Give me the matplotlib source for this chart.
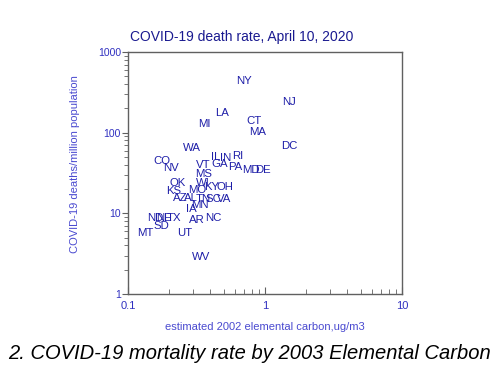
import matplotlib
matplotlib.use("Agg")
import matplotlib.pyplot as plt
from matplotlib.ticker import LogLocator, FixedLocator, NullFormatter

# state labels, estimated elemental carbon (ug/m3), deaths per million
states = ["NY", "NJ", "LA", "MI", "CT", "MA", "DC", "WA", "IL", "IN", "RI",
          "CO", "NV", "VT", "GA", "PA", "MD", "DE", "MS", "OK", "WI", "KY",
          "OH", "KS", "MO", "AZ", "AL", "TN", "SC", "VA", "IA", "MN", "AR",
          "NC", "UT", "MT", "SD", "ND", "NE", "TX", "WV"]
carbon = [0.70, 1.50, 0.485, 0.359, 0.83, 0.89, 1.50, 0.293, 0.438, 0.519, 0.635,
          0.177, 0.206, 0.352, 0.470, 0.604, 0.79, 0.966, 0.359, 0.232, 0.352, 0.410,
          0.511, 0.217, 0.319, 0.240, 0.288, 0.352, 0.417, 0.502, 0.288, 0.336, 0.319,
          0.417, 0.261, 0.133, 0.174, 0.157, 0.183, 0.217, 0.341]
deaths = [437, 240, 175, 128, 140, 102, 68, 65, 50, 48.5, 51,
          44.7, 36.6, 39.8, 41, 37.6, 34.5, 34.5, 30.8, 23.8, 23.8, 21.2,
          21.2, 19.0, 19.5, 15.5, 15.5, 15.1, 15.1, 15.1, 11.4, 12.7, 8.28,
          8.77, 5.71, 5.71, 6.98, 8.77, 8.77, 8.77, 2.88]

title = "COVID-19 death rate, April 10, 2020"
xlabel = "estimated 2002 elemental carbon,ug/m3"
ylabel = "COVID-19 deaths/million population"
caption = "2. COVID-19 mortality rate by 2003 Elemental Carbon"

plt.rcParams['font.family'] = ['Liberation Sans', 'DejaVu Sans']

fig = plt.figure(figsize=(5, 3.71), dpi=100)
ax = fig.add_axes([0.256, 0.2075, 0.548, 0.6523])

ax.set_xscale("log")
ax.set_yscale("log")
ax.set_xlim(0.1, 10)
ax.set_ylim(1, 1000)

# the states are drawn as text labels at their data points
for s, x, y in zip(states, carbon, deaths):
    ax.text(x, y, s, ha="center", va="center", fontsize=8.2, color="#1e1ea8")

for sp in ax.spines.values():
    sp.set_color("#606060")
    sp.set_linewidth(1.0)

ax.xaxis.set_major_locator(FixedLocator([0.1, 1, 10]))
ax.xaxis.set_minor_locator(LogLocator(base=10, subs=range(2, 10)))
ax.xaxis.set_minor_formatter(NullFormatter())
ax.set_xticklabels(["0.1", "1", "10"])
ax.yaxis.set_major_locator(FixedLocator([1, 10, 100, 1000]))
ax.yaxis.set_minor_locator(LogLocator(base=10, subs=range(2, 10)))
ax.yaxis.set_minor_formatter(NullFormatter())
ax.set_yticklabels(["1", "10", "100", "1000"])

ax.tick_params(axis="x", which="both", direction="in", colors="#606060",
               labelcolor="#3030c0", labelsize=8, pad=5)
ax.tick_params(axis="x", which="major", length=5)
ax.tick_params(axis="x", which="minor", length=3.5)
ax.tick_params(axis="y", which="both", direction="out", colors="#606060",
               labelcolor="#3030c0", labelsize=7.5, pad=1)
ax.tick_params(axis="y", which="major", length=4)
ax.tick_params(axis="y", which="minor", length=3)

ax.set_xlabel(xlabel, color="#4a4ad0", fontsize=8)
ax.xaxis.set_label_coords(0.5, -0.115)
ax.set_ylabel(ylabel, color="#4a4ad0", fontsize=8)
ax.yaxis.set_label_coords(-0.175, 0.537)

fig.text(0.484, 0.90, title, ha="center", va="center", fontsize=10, color="#1a1a90")
fig.text(0.5, 0.048, caption, ha="center", va="center", fontsize=14.5,
         style="italic", color="black")

fig.savefig("out.png", dpi=100)
